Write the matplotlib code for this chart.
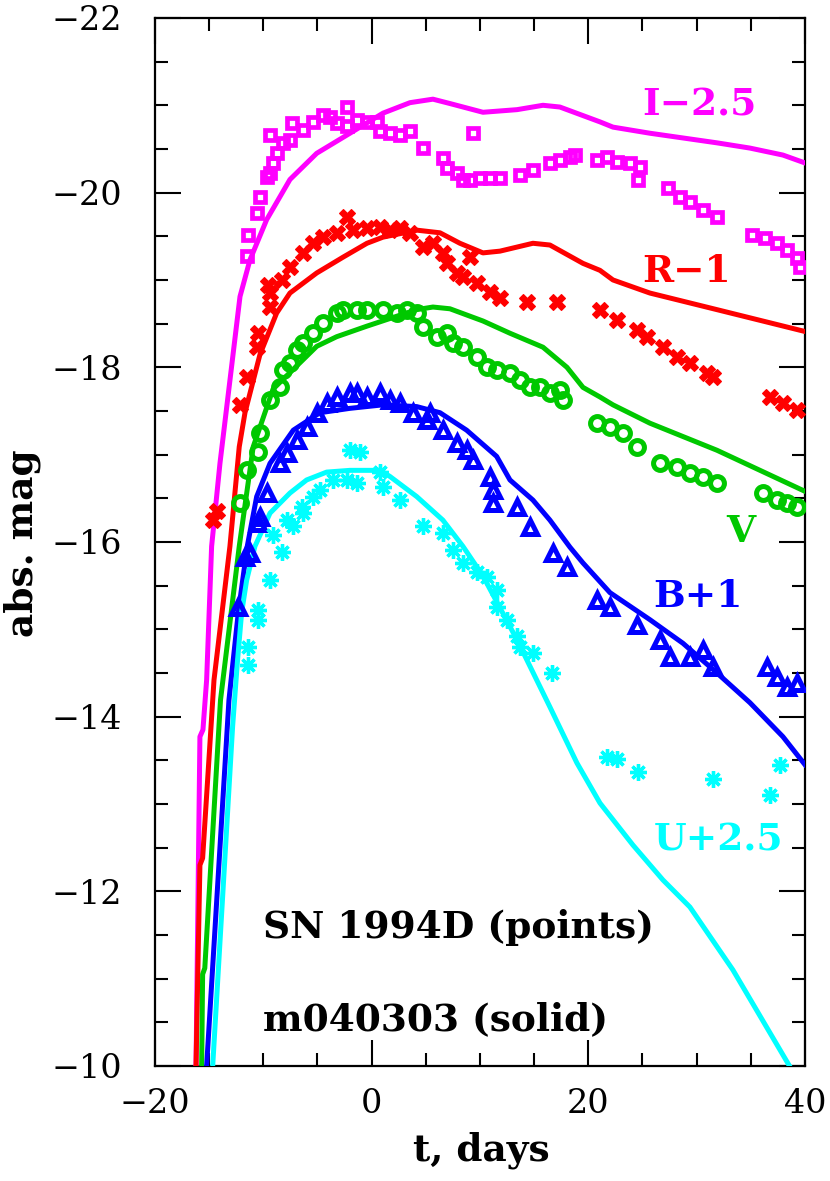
import numpy as np
import matplotlib
matplotlib.use('Agg')
import matplotlib.pyplot as plt
from matplotlib.ticker import MultipleLocator

# ---- model light curves (solid lines) ----
i_mod_t = [-16.21, -15.85, -15.57, -15.23, -14.77, -14.0, -13.08, -12.15, -11.23, -9.69, -7.54, -5.07,
           -2.0, 1.05, 3.54, 5.66, 7.23, 10.28, 13.42, 15.82, 17.38, 21.08, 22.28, 25.69, 31.88, 34.92,
           37.97, 40.0]
i_mod_m = [-10.0, -13.77, -13.85, -14.42, -15.95, -16.90, -17.85, -18.81, -19.23, -19.69, -20.15, -20.45,
           -20.68, -20.91, -21.03, -21.07, -21.02, -20.92, -20.95, -21.0, -20.98, -20.81, -20.75, -20.68,
           -20.57, -20.51, -20.43, -20.34]

r_mod_t = [-16.21, -15.85, -15.6, -14.55, -13.08, -12.22, -11.69, -10.3, -8.77, -7.54, -5.07, -2.65, -0.43,
           1.05, 4.19, 6.31, 8.15, 10.28, 11.85, 14.89, 16.46, 19.51, 21.08, 22.28, 25.69, 31.88, 40.0]
r_mod_m = [-10.0, -12.30, -12.38, -14.42, -15.95, -17.09, -17.48, -18.15, -18.62, -18.85, -19.08, -19.26,
           -19.42, -19.49, -19.57, -19.54, -19.42, -19.31, -19.33, -19.42, -19.40, -19.19, -19.11, -19.0,
           -18.85, -18.66, -18.41]

v_mod_t = [-15.69, -15.60, -15.40, -13.95, -12.22, -10.93, -9.1, -5.07, -3.23, -0.46, 4.16, 5.66, 7.23,
           10.28, 12.77, 15.82, 18.03, 19.51, 21.08, 22.28, 25.69, 31.88, 40.0]
v_mod_m = [-10.0, -11.05, -11.12, -14.19, -15.95, -17.09, -17.75, -18.24, -18.35, -18.47, -18.66, -18.69,
           -18.67, -18.53, -18.39, -18.23, -18.0, -17.77, -17.66, -17.57, -17.36, -17.05, -16.58]

b_mod_t = [-15.23, -13.17, -12.31, -11.48, -10.61, -9.38, -7.23, -4.77, -2.0, 1.05, 4.16, 6.31, 8.77,
           11.54, 12.77, 14.89, 16.46, 18.31, 19.51, 22.0, 25.69, 28.74, 31.88, 34.92, 37.97, 40.0]
b_mod_m = [-10.0, -14.19, -15.19, -15.95, -16.52, -16.90, -17.28, -17.48, -17.53, -17.57, -17.55, -17.48,
           -17.28, -16.98, -16.71, -16.48, -16.25, -15.94, -15.76, -15.42, -15.11, -14.84, -14.50, -14.16,
           -13.77, -13.45]

u_mod_t = [-14.67, -12.83, -12.40, -12.0, -11.54, -10.77, -9.38, -7.54, -6.0, -4.15, -2.0, 0.77, 1.69,
           4.16, 6.58, 8.43, 10.28, 13.42, 16.46, 18.95, 21.08, 24.12, 26.89, 29.38, 33.35, 38.62]
u_mod_m = [-10.0, -13.89, -14.61, -15.19, -15.56, -15.95, -16.33, -16.56, -16.71, -16.80, -16.82, -16.82,
           -16.75, -16.52, -16.25, -15.95, -15.61, -14.88, -14.11, -13.47, -13.01, -12.53, -12.13, -11.82,
           -11.10, -9.99]

# ---- SN 1994D observations (points) ----
i_obs_t = [-11.54, -11.42, -10.61, -10.31, -9.69, -9.38, -9.11, -9.38, -8.77, -8.18, -7.54, -7.38, -6.34,
           -5.42, -4.49, -3.85, -3.23, -2.30, -2.30, -1.38, -0.46, 0.47, 0.77, 1.69, 2.62, 3.54, 4.74,
           6.58, 6.93, 7.85, 8.43, 9.08, 9.35, 10.0, 10.92, 11.85, 13.69, 14.89, 16.46, 17.38, 18.31,
           18.77, 20.77, 21.69, 22.62, 23.85, 24.77, 24.58, 27.35, 28.46, 29.38, 30.58, 31.88, 35.08,
           36.31, 37.39, 38.31, 39.23, 39.54]
i_obs_m = [-19.27, -19.52, -19.77, -19.95, -20.18, -20.23, -20.34, -20.66, -20.45, -20.57, -20.60, -20.80,
           -20.72, -20.81, -20.89, -20.87, -20.80, -20.98, -20.76, -20.83, -20.81, -20.81, -20.70, -20.68,
           -20.66, -20.70, -20.51, -20.40, -20.28, -20.23, -20.15, -20.15, -20.68, -20.17, -20.17, -20.17,
           -20.20, -20.26, -20.34, -20.37, -20.41, -20.43, -20.37, -20.41, -20.35, -20.34, -20.29, -20.15,
           -20.05, -19.95, -19.89, -19.80, -19.72, -19.52, -19.48, -19.42, -19.34, -19.25, -19.15]

r_obs_t = [-14.6, -14.3, -12.15, -11.54, -10.61, -10.49, -9.38, -9.38, -9.57, -8.30, -7.54, -6.34, -5.42,
           -4.49, -3.23, -2.30, -1.72, -0.46, 0.77, 1.69, 2.62, 3.54, 4.74, 5.66, 6.58, 6.93, 7.85, 8.43,
           9.08, 9.69, 10.92, 11.85, 14.31, 17.08, 21.08, 22.62, 24.46, 25.38, 26.89, 28.15, 29.38, 30.92,
           31.51, 36.77, 37.97, 39.23]
r_obs_m = [-16.25, -16.35, -17.57, -17.89, -18.23, -18.39, -18.69, -18.85, -18.94, -19.0, -19.15, -19.31,
           -19.42, -19.49, -19.54, -19.72, -19.57, -19.60, -19.61, -19.57, -19.60, -19.54, -19.38, -19.42,
           -19.31, -19.19, -19.08, -19.03, -19.26, -18.97, -18.86, -18.79, -18.75, -18.75, -18.66, -18.54,
           -18.43, -18.35, -18.23, -18.12, -18.05, -17.93, -17.89, -17.66, -17.59, -17.51]

v_obs_t = [-12.15, -11.54, -10.49, -10.31, -9.38, -8.46, -8.18, -7.54, -6.92, -6.34, -5.42, -4.49, -3.23,
           -2.65, -1.38, -0.46, 1.05, 2.31, 3.23, 4.16, 4.74, 6.0, 6.93, 7.51, 8.43, 9.69, 10.62, 11.54,
           12.77, 13.69, 14.62, 15.54, 16.46, 17.38, 17.66, 20.77, 22.0, 23.2, 24.46, 26.62, 28.15, 29.38,
           30.58, 31.85, 36.15, 37.39, 38.31, 39.23]
v_obs_m = [-16.45, -16.82, -17.03, -17.25, -17.63, -17.77, -17.97, -18.05, -18.20, -18.28, -18.39, -18.51,
           -18.62, -18.66, -18.66, -18.66, -18.66, -18.62, -18.66, -18.62, -18.46, -18.35, -18.39, -18.28,
           -18.23, -18.12, -18.0, -17.97, -17.93, -17.85, -17.77, -17.77, -17.71, -17.74, -17.63, -17.36,
           -17.32, -17.25, -17.09, -16.90, -16.86, -16.79, -16.74, -16.68, -16.56, -16.48, -16.45, -16.40]

b_obs_t = [-12.31, -11.69, -11.23, -10.46, -10.31, -9.69, -8.46, -7.84, -6.92, -6.0, -5.07, -4.15, -3.23,
           -2.0, -1.38, -0.46, 0.77, 1.69, 2.62, 3.82, 5.08, 5.38, 6.58, 7.85, 8.77, 9.35, 10.92, 11.2, 11.2,
           13.39, 14.62, 16.74, 18.0, 20.77, 22.0, 24.46, 26.62, 27.54, 29.38, 30.58, 31.51, 36.46, 37.39,
           38.31, 39.23]
b_obs_m = [-15.26, -15.83, -15.87, -16.22, -16.29, -16.56, -16.90, -17.02, -17.17, -17.32, -17.48, -17.59,
           -17.66, -17.71, -17.71, -17.66, -17.71, -17.63, -17.59, -17.48, -17.40, -17.48, -17.28, -17.13,
           -17.05, -16.94, -16.74, -16.60, -16.45, -16.40, -16.17, -15.87, -15.71, -15.34, -15.26, -15.05,
           -14.88, -14.68, -14.68, -14.76, -14.57, -14.57, -14.45, -14.34, -14.39]

u_obs_t = [-11.39, -11.39, -10.46, -10.46, -9.38, -8.30, -9.11, -7.23, -7.84, -6.31, -6.46, -5.39, -4.77,
           -3.54, -2.30, -1.38, -2.0, -1.08, 0.77, 1.08, 2.62, 4.77, 6.61, 7.54, 8.46, 9.69, 10.62, 11.54,
           11.54, 12.46, 13.39, 13.69, 14.92, 16.62, 21.70, 22.62, 24.62, 31.54, 36.77, 37.69]
u_obs_m = [-14.59, -14.80, -15.11, -15.22, -15.56, -15.89, -16.08, -16.18, -16.25, -16.33, -16.40, -16.52,
           -16.60, -16.71, -16.71, -16.68, -17.05, -17.03, -16.80, -16.63, -16.48, -16.18, -16.10, -15.91,
           -15.76, -15.66, -15.60, -15.45, -15.26, -15.11, -14.92, -14.80, -14.73, -14.50, -13.54, -13.52,
           -13.37, -13.29, -13.10, -13.45]

col_i = '#ff00ff'
col_r = '#ff0000'
col_v = '#00c800'
col_b = '#0000ff'
col_u = '#00ffff'

fig = plt.figure(figsize=(8.3, 11.81), dpi=100)
ax = fig.add_axes([0.1867, 0.0974, 0.7831, 0.8874])

lw = 3.6
ax.plot(i_mod_t, i_mod_m, color=col_i, lw=lw, zorder=3)
ax.plot(r_mod_t, r_mod_m, color=col_r, lw=lw, zorder=3)
ax.plot(v_mod_t, v_mod_m, color=col_v, lw=lw, zorder=3)
ax.plot(b_mod_t, b_mod_m, color=col_b, lw=lw, zorder=3)
ax.plot(u_mod_t, u_mod_m, color=col_u, lw=lw, zorder=3)

ax.plot(i_obs_t, i_obs_m, ls='none', marker='s', ms=7.2, mfc='none', mec=col_i, mew=3.4, zorder=4)
ax.plot(r_obs_t, r_obs_m, ls='none', marker='X', ms=11.5, mfc=col_r, mec=col_r, mew=0.8, zorder=4)
ax.plot(v_obs_t, v_obs_m, ls='none', marker='o', ms=10, mfc='none', mec=col_v, mew=3.6, zorder=4)
ax.plot(b_obs_t, b_obs_m, ls='none', marker='^', ms=10, mfc='none', mec=col_b, mew=3.6, zorder=4)
ax.plot(u_obs_t, u_obs_m, ls='none', marker=(8, 2, 0), ms=12, mec=col_u, mew=2.4, zorder=4)

ax.set_xlim(-20, 40)
ax.set_ylim(-10, -22)

ax.xaxis.set_major_locator(MultipleLocator(20))
ax.xaxis.set_minor_locator(MultipleLocator(5))
ax.yaxis.set_major_locator(MultipleLocator(2))
ax.yaxis.set_minor_locator(MultipleLocator(0.5))
ax.tick_params(which='both', direction='in', top=True, right=True, width=1.5, colors='black')
ax.tick_params(which='major', length=19)
ax.tick_params(which='minor', length=9.5)
ax.tick_params(axis='x', which='major', pad=16, labelsize=24)
ax.tick_params(axis='y', which='major', pad=24, labelsize=24)
for lab in ax.get_xticklabels() + ax.get_yticklabels():
    lab.set_family('DejaVu Serif')
for sp in ax.spines.values():
    sp.set_linewidth(1.6)

bold = dict(family='DejaVu Serif', fontweight='bold', fontsize=27)

# axis titles placed in figure pixels of the reference layout
fig.text(481 / 830, 1 - 1150 / 1181, 't, days', ha='center', va='center', **bold)
fig.text(22 / 830, 1 - 543 / 1181, 'abs. mag', rotation=90, ha='center', va='center', **bold)

ax.text(25.0, -20.88, 'I\u22122.5', color=col_i, ha='left', va='baseline', **bold)
ax.text(25.0, -18.98, 'R\u22121', color=col_r, ha='left', va='baseline', **bold)
ax.text(34.1, -16.0, 'V', color=col_v, ha='center', va='baseline', **bold)
ax.text(26.0, -15.26, 'B+1', color=col_b, ha='left', va='baseline', **bold)
ax.text(26.0, -12.47, 'U+2.5', color=col_u, ha='left', va='baseline', **bold)
ax.text(-10.0, -11.47, 'SN 1994D (points)', color='black', ha='left', va='baseline', **bold)
ax.text(-10.0, -10.41, 'm040303 (solid)', color='black', ha='left', va='baseline', **bold)

fig.savefig('out.png', dpi=100)
